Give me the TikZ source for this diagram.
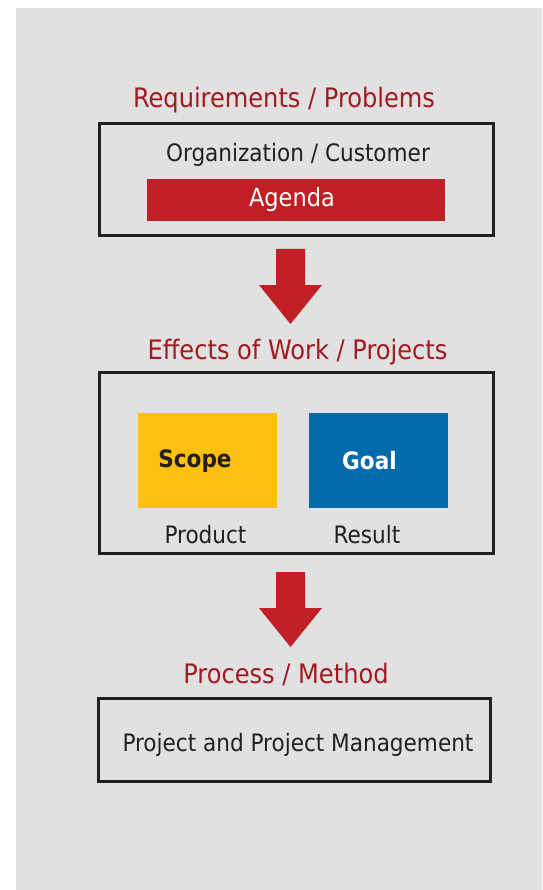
\documentclass[tikz,border=0pt]{standalone}
\usepackage{fontspec}
\setmainfont{DejaVu Sans Condensed}
\definecolor{panelgray}{HTML}{E1E1E1}
\definecolor{headred}{HTML}{A11A20}
\definecolor{barred}{HTML}{C01F25}
\definecolor{linegray}{HTML}{231F20}
\definecolor{scopeyellow}{HTML}{FDC010}
\definecolor{goalblue}{HTML}{036AAB}
\tikzset{
  frame/.style={draw=linegray, line width=3.2pt, rectangle, inner sep=0pt},
  heading/.style={anchor=base, inner sep=0pt, text=headred, font=\fontsize{26.8}{30}\selectfont},
  plain/.style={anchor=base, inner sep=0pt, text=linegray, font=\fontsize{24}{28}\selectfont},
  tile/.style={rectangle, inner sep=0pt},
  bigarrow/.style={fill=barred}
}
\begin{document}
\begin{tikzpicture}[x=1pt,y=-1pt]
  \useasboundingbox (0,0) rectangle (542,890);
  \fill[panelgray] (16,8) rectangle (542,890);

  % first level
  \node[heading] (req) at (284,108) {Requirements / Problems};
  \node[frame, minimum width=394pt, minimum height=112pt] (org) at (296.5,179.5) {};
  \node[plain] (orgtext) at (298,162) {Organization / Customer};
  \node[tile, fill=barred, minimum width=298pt, minimum height=42pt] (agenda) at (296,200) {};
  \node[plain, text=white, font=\fontsize{25}{28}\selectfont] (agendatext) at (292,207) {Agenda};

  % second level
  \node[heading] (eff) at (297.5,359) {Effects of Work / Projects};
  \node[frame, minimum width=394pt, minimum height=181pt] (work) at (296.5,463) {};
  \node[tile, fill=scopeyellow, minimum width=139pt, minimum height=95pt] (scope) at (207.5,460.5) {};
  \node[tile, fill=goalblue, minimum width=139pt, minimum height=95pt] (goal) at (378.5,460.5) {};
  \node[plain, font=\bfseries\fontsize{24}{28}\selectfont] (scopetext) at (195,467) {Scope};
  \node[plain, text=white, font=\bfseries\fontsize{24}{28}\selectfont] (goaltext) at (369.5,469) {Goal};
  \node[plain] (product) at (205.5,543) {Product};
  \node[plain] (result) at (367,543) {Result};

  % third level
  \node[heading] (proc) at (286,683) {Process / Method};
  \node[frame, minimum width=392pt, minimum height=83pt] (pm) at (294.5,740) {};
  \node[plain] (pmtext) at (298,751) {Project and Project Management};

  % block arrows
  \foreach \t in {249,572}
    \fill[bigarrow] (276,\t) -- (305,\t) -- (305,\t+36) -- (322,\t+36)
      -- (290.5,\t+75) -- (259,\t+36) -- (276,\t+36) -- cycle;
\end{tikzpicture}
\end{document}
